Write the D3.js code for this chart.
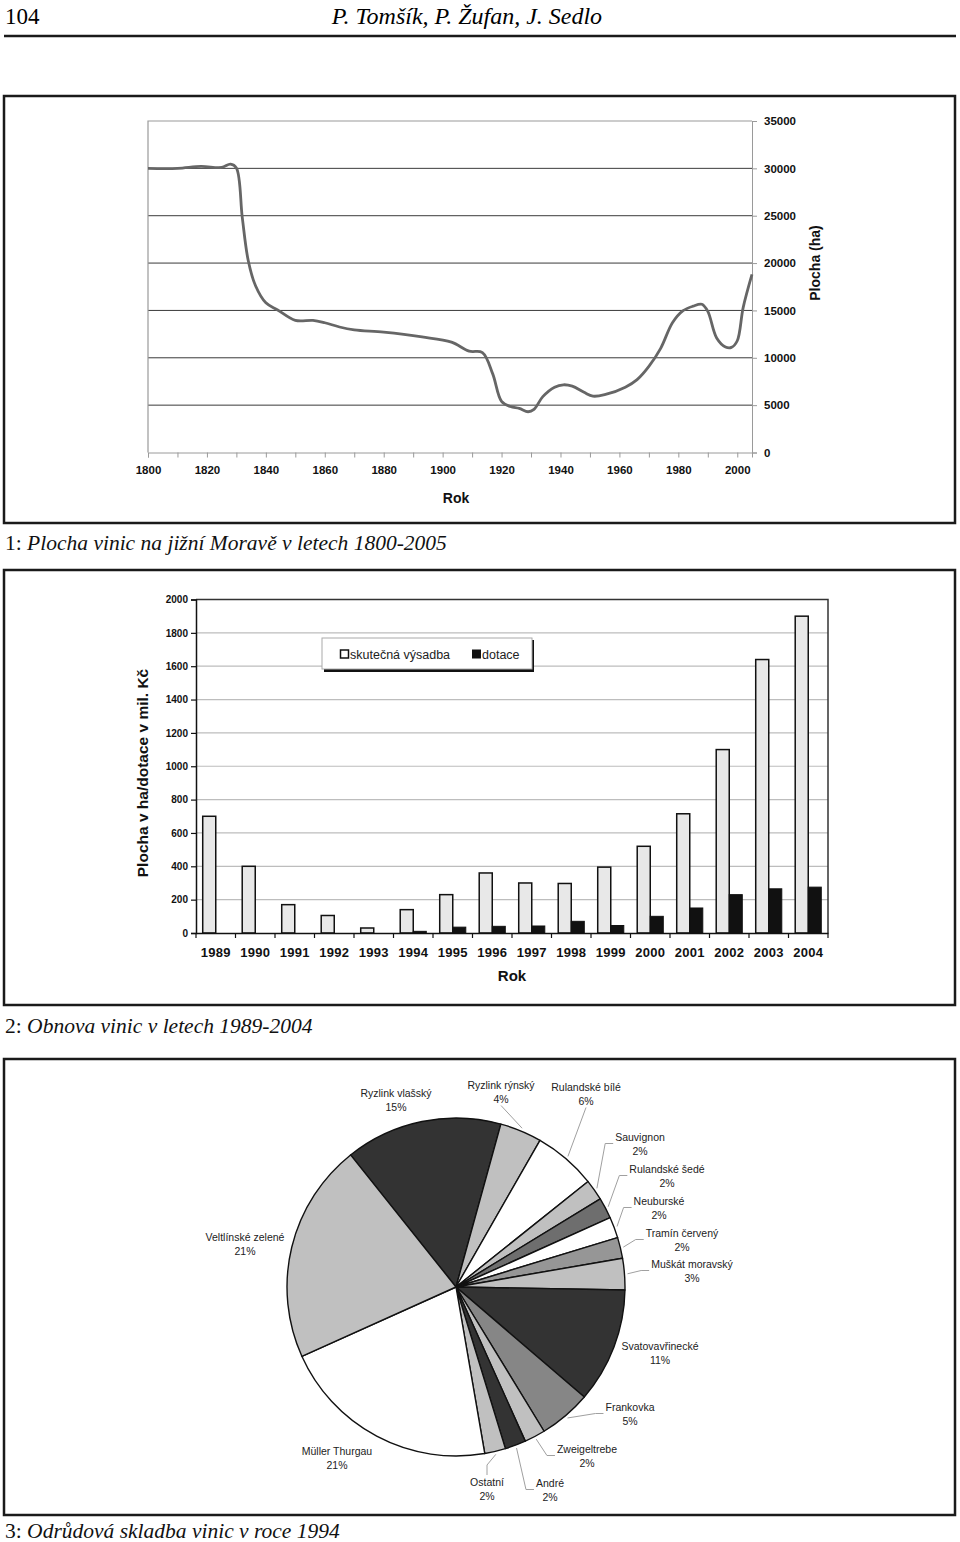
<!DOCTYPE html>
<html><head><meta charset="utf-8">
<script src="https://cdn.jsdelivr.net/npm/d3@7"></script>
<style>body{margin:0;background:#fff}svg{display:block}</style>
</head><body>
<svg id="c" width="960" height="1542"></svg>
<script>
// ---------- DATA ----------
const lineYears  = [1800,1810,1818,1825,1828,1830,1832,1834,1836.5,1840,1844,1850,1856,1860,1865,1870,1880,1893,1903,1909,1913.5,1917,1920,1923,1926,1929,1931,1934,1938,1941,1944,1948,1951,1955,1962,1966,1970,1974,1978,1981.5,1985,1988,1990,1993,1996,1998,2000,2002,2005];
const lineValues = [30000,30000,30200,30100,30450,30050,24800,20300,17600,15800,15050,13950,13950,13700,13250,12950,12700,12200,11650,10700,10550,8300,5400,4850,4650,4300,4550,5900,6900,7150,7000,6350,5950,6100,6900,7700,9100,11000,13700,14950,15450,15650,14900,12100,11150,11100,11800,15300,18800];
const lineTicksX = [1800,1820,1840,1860,1880,1900,1920,1940,1960,1980,2000];
const lineTicksY = [0,5000,10000,15000,20000,25000,30000,35000];

const barYears   = ["1989","1990","1991","1992","1993","1994","1995","1996","1997","1998","1999","2000","2001","2002","2003","2004"];
const barPlanted = [700,400,170,105,30,140,230,360,300,297,395,520,715,1100,1640,1900];
const barSubsidy = [0,0,0,0,0,10,35,40,42,70,45,100,150,230,265,275];
const barTicksY  = [0,200,400,600,800,1000,1200,1400,1600,1800,2000];
const barSeries  = ["skutečná výsadba","dotace"];

const pieNames  = ["Ryzlink vlašský","Ryzlink rýnský","Rulandské bílé","Sauvignon","Rulandské šedé","Neuburské","Tramín červený","Muškát moravský","Svatovavřinecké","Frankovka","Zweigeltrebe","André","Ostatní","Müller Thurgau","Veltlínské zelené"];
const pieValues = [15,4,6,2,2,2,2,3,11,5,2,2,2,21,21];

// ---------- STYLE / LAYOUT ----------
const pieFills = ["#333333","#c0c0c0","#ffffff","#c0c0c0","#6e6e6e","#ffffff","#969696","#c0c0c0","#333333","#868686","#c0c0c0","#333333","#c0c0c0","#ffffff","#c0c0c0"];
// label offsets from pie centre [dx, dy, leader type]
const pieLabelLayout = {
 "Ryzlink vlašský":[-60,-194,"none"],
 "Ryzlink rýnský":[45,-202,"below"],
 "Rulandské bílé":[130,-200,"below"],
 "Sauvignon":[184,-150,"left"],
 "Rulandské šedé":[211,-118,"left"],
 "Neuburské":[203,-86,"left"],
 "Tramín červený":[226,-54,"left"],
 "Muškát moravský":[236,-23,"left"],
 "Svatovavřinecké":[204,59,"none"],
 "Frankovka":[174,120,"left"],
 "Zweigeltrebe":[131,162,"left"],
 "André":[94,196,"left"],
 "Ostatní":[31,195,"above"],
 "Müller Thurgau":[-119,164,"none"],
 "Veltlínské zelené":[-211,-50,"none"]
};

const svg = d3.select("#c");
const SERIF = "'Liberation Serif','DejaVu Serif',serif";
const SANS = "'Liberation Sans',Arial,sans-serif";

// ---------- PAGE ----------
svg.append("text").attr("x",5).attr("y",24).attr("font-family",SERIF).attr("font-size",23).text("104");
svg.append("text").attr("x",467).attr("y",24).attr("text-anchor","middle").attr("font-family",SERIF)
  .attr("font-style","italic").attr("font-size",24).text("P. Tomšík, P. Žufan, J. Sedlo");
svg.append("line").attr("x1",4).attr("x2",956).attr("y1",36).attr("y2",36).attr("stroke","#1a1a1a").attr("stroke-width",2.5);

function box(y0,y1){
  svg.append("rect").attr("x",4).attr("y",y0).attr("width",951).attr("height",y1-y0)
    .attr("fill","none").attr("stroke","#1a1a1a").attr("stroke-width",2.5);
}
function caption(y,num,txt){
  const t = svg.append("text").attr("x",5).attr("y",y).attr("font-family",SERIF).attr("font-size",21.5).attr("fill","#111");
  t.append("tspan").text(num+": ");
  t.append("tspan").attr("font-style","italic").text(txt);
}
box(96,523); caption(550,"1","Plocha vinic na jižní Moravě v letech 1800-2005");
box(570,1005); caption(1033,"2","Obnova vinic v letech 1989-2004");
box(1059,1515); caption(1538,"3","Odrůdová skladba vinic v roce 1994");

// ---------- CHART 1: line ----------
{
  const x = d3.scaleLinear().domain([1800,2005]).range([148,752]);
  const y = d3.scaleLinear().domain([0,35000]).range([452.5,121]);
  const g = svg.append("g");
  g.selectAll("line.grid").data(lineTicksY.filter(v=>v>0&&v<35000)).join("line")
    .attr("x1",x(1800)).attr("x2",x(2005)).attr("y1",d=>y(d)).attr("y2",d=>y(d))
    .attr("stroke","#3a3a3a").attr("stroke-width",1);
  g.append("path").attr("d",`M${x(1800)},${y(0)}V${y(35000)}H${x(2005)}`).attr("fill","none").attr("stroke","#9a9a9a").attr("stroke-width",1.2);
  const xb = g.append("g").attr("transform",`translate(0,${y(0)})`)
    .call(d3.axisBottom(x).tickValues(d3.range(1800,2006,10)).tickSize(5).tickFormat(""));
  xb.select(".domain").attr("stroke","#9a9a9a");
  xb.selectAll(".tick line").attr("stroke","#9a9a9a");
  const xl = g.append("g").attr("transform",`translate(0,${y(0)})`)
    .call(d3.axisBottom(x).tickValues(lineTicksX).tickSize(0).tickPadding(13).tickFormat(d3.format("d")));
  xl.select(".domain").remove();
  xl.selectAll("text").attr("font-family",SANS).attr("font-weight","bold").attr("font-size",11.5).attr("fill","#111");
  const ya = g.append("g").attr("transform",`translate(${x(2005)},0)`)
    .call(d3.axisRight(y).tickValues(lineTicksY).tickSize(5).tickPadding(7).tickFormat(d3.format("d")));
  ya.select(".domain").attr("stroke","#9a9a9a");
  ya.selectAll(".tick line").attr("stroke","#9a9a9a");
  ya.selectAll("text").attr("font-family",SANS).attr("font-weight","bold").attr("font-size",11.5).attr("fill","#111");
  const pts = lineYears.map((yr,i)=>[yr,lineValues[i]]);
  g.append("path").datum(pts)
    .attr("d",d3.line().x(d=>x(d[0])).y(d=>y(d[1])).curve(d3.curveCatmullRom.alpha(0.5)))
    .attr("fill","none").attr("stroke","#666").attr("stroke-width",2.8).attr("stroke-linejoin","round");
  g.append("text").attr("x",456).attr("y",503).attr("text-anchor","middle").attr("font-family",SANS)
    .attr("font-weight","bold").attr("font-size",14).attr("fill","#111").text("Rok");
  g.append("text").attr("transform","translate(820,263) rotate(-90)").attr("text-anchor","middle")
    .attr("font-family",SANS).attr("font-weight","bold").attr("font-size",14).attr("fill","#111").text("Plocha (ha)");
}

// ---------- CHART 2: bars ----------
{
  const x = d3.scaleBand().domain(barYears).range([196,828]).padding(0);
  const y = d3.scaleLinear().domain([0,2000]).range([933,599.5]);
  const bw = x.bandwidth();
  const inner = d3.scaleBand().domain(barSeries).range([0.17*bw,0.83*bw]).padding(0);
  const g = svg.append("g");
  g.selectAll("line.grid").data(barTicksY.filter(v=>v>0&&v<2000)).join("line")
    .attr("x1",196).attr("x2",828).attr("y1",d=>y(d)).attr("y2",d=>y(d))
    .attr("stroke","#bdbdbd").attr("stroke-width",1.2);
  g.append("path").attr("d",`M196,${y(2000)}H828V${y(0)}`).attr("fill","none").attr("stroke","#333").attr("stroke-width",1.5);
  g.selectAll("rect.p").data(barYears).join("rect")
    .attr("x",d=>x(d)+inner(barSeries[0])).attr("width",inner.bandwidth())
    .attr("y",(d,i)=>y(barPlanted[i])).attr("height",(d,i)=>y(0)-y(barPlanted[i]))
    .attr("fill","#e8e8e8").attr("stroke","#111").attr("stroke-width",1.5);
  g.selectAll("rect.s").data(barYears.filter((d,i)=>barSubsidy[i]>0)).join("rect")
    .attr("x",d=>x(d)+inner(barSeries[1])).attr("width",inner.bandwidth())
    .attr("y",d=>y(barSubsidy[barYears.indexOf(d)])).attr("height",d=>y(0)-y(barSubsidy[barYears.indexOf(d)]))
    .attr("fill","#111").attr("stroke","#111").attr("stroke-width",1);
  const ya = g.append("g").attr("transform","translate(196,0)")
    .call(d3.axisLeft(y).tickValues(barTicksY).tickSize(5).tickPadding(3).tickFormat(d3.format("d")));
  ya.select(".domain").attr("stroke","#111").attr("stroke-width",1.5);
  ya.selectAll(".tick line").attr("stroke","#111").attr("stroke-width",1.2);
  ya.selectAll("text").attr("font-family",SANS).attr("font-weight","bold").attr("font-size",10).attr("fill","#111");
  const xa = g.append("g").attr("transform",`translate(0,${y(0)})`)
    .call(d3.axisBottom(x).tickSize(0).tickPadding(15));
  xa.select(".domain").attr("stroke","#111").attr("stroke-width",1.5);
  xa.selectAll("text").attr("font-family",SANS).attr("font-weight","bold").attr("font-size",13).attr("fill","#111").attr("letter-spacing","0.3px");
  g.selectAll("line.xt").data(barYears.concat(["end"])).join("line")
    .attr("x1",(d,i)=>196+i*bw).attr("x2",(d,i)=>196+i*bw).attr("y1",y(0)).attr("y2",y(0)+5)
    .attr("stroke","#111").attr("stroke-width",1.2);
  g.append("text").attr("x",512).attr("y",981).attr("text-anchor","middle").attr("font-family",SANS)
    .attr("font-weight","bold").attr("font-size",15).attr("fill","#111").text("Rok");
  g.append("text").attr("transform","translate(148,773) rotate(-90)").attr("text-anchor","middle")
    .attr("font-family",SANS).attr("font-weight","bold").attr("font-size",15.5).attr("fill","#111").text("Plocha v ha/dotace v mil. Kč");
  const lg = g.append("g");
  lg.append("rect").attr("x",324).attr("y",640).attr("width",210).attr("height",32).attr("fill","#111");
  lg.append("rect").attr("x",322).attr("y",638).attr("width",210).attr("height",31).attr("fill","#fff").attr("stroke","#aaa").attr("stroke-width",1);
  lg.append("rect").attr("x",340.5).attr("y",650).attr("width",8).attr("height",8).attr("fill","#fff").attr("stroke","#111").attr("stroke-width",1.5);
  lg.append("text").attr("x",350).attr("y",658.5).attr("font-family",SANS).attr("font-size",12.5).attr("fill","#222").text(barSeries[0]);
  lg.append("rect").attr("x",472).attr("y",649.5).attr("width",9).attr("height",9).attr("fill","#111");
  lg.append("text").attr("x",482).attr("y",658.5).attr("font-family",SANS).attr("font-size",12.5).attr("fill","#222").text(barSeries[1]);
}

// ---------- CHART 3: pie ----------
{
  const cx = 456, cy = 1287, r = 169;
  const g = svg.append("g").attr("transform",`translate(${cx},${cy})`);
  const start = -38.6*Math.PI/180;
  const pie = d3.pie().sort(null).startAngle(start).endAngle(start+2*Math.PI);
  const arcs = pie(pieValues);
  const arc = d3.arc().innerRadius(0).outerRadius(r);
  g.selectAll("path.s").data(arcs).join("path")
    .attr("d",arc).attr("fill",(d,i)=>pieFills[i]).attr("stroke","#111").attr("stroke-width",1.4).attr("stroke-linejoin","round");
  const lab = g.append("g");
  arcs.forEach((a,i)=>{
    const name = pieNames[i];
    const [dx,dy,type] = pieLabelLayout[name];
    const t = lab.append("text").attr("text-anchor","middle").attr("font-family",SANS).attr("font-size",10.5).attr("fill","#222");
    t.append("tspan").attr("x",dx).attr("y",dy+4).text(name);
    t.append("tspan").attr("x",dx).attr("y",dy+17.5).text(pieValues[i]+"%");
    const bb = t.node().getBBox();
    const mid = (a.startAngle+a.endAngle)/2;
    const P = [Math.sin(mid)*(r+3), -Math.cos(mid)*(r+3)];
    let pts = null;
    if(type==="left"){ const S=[bb.x-2, dy+6.5]; pts=[S,[S[0]-8,S[1]],P]; }
    else if(type==="below"){ pts=[[dx,bb.y+bb.height+1],P]; }
    else if(type==="above"){ const S=[dx,bb.y-1]; pts=[S,[S[0],S[1]-10],P]; }
    if(pts) lab.append("path").attr("d",d3.line()(pts)).attr("fill","none").attr("stroke","#a0a0a0").attr("stroke-width",1);
  });
}
</script>
</body></html>
